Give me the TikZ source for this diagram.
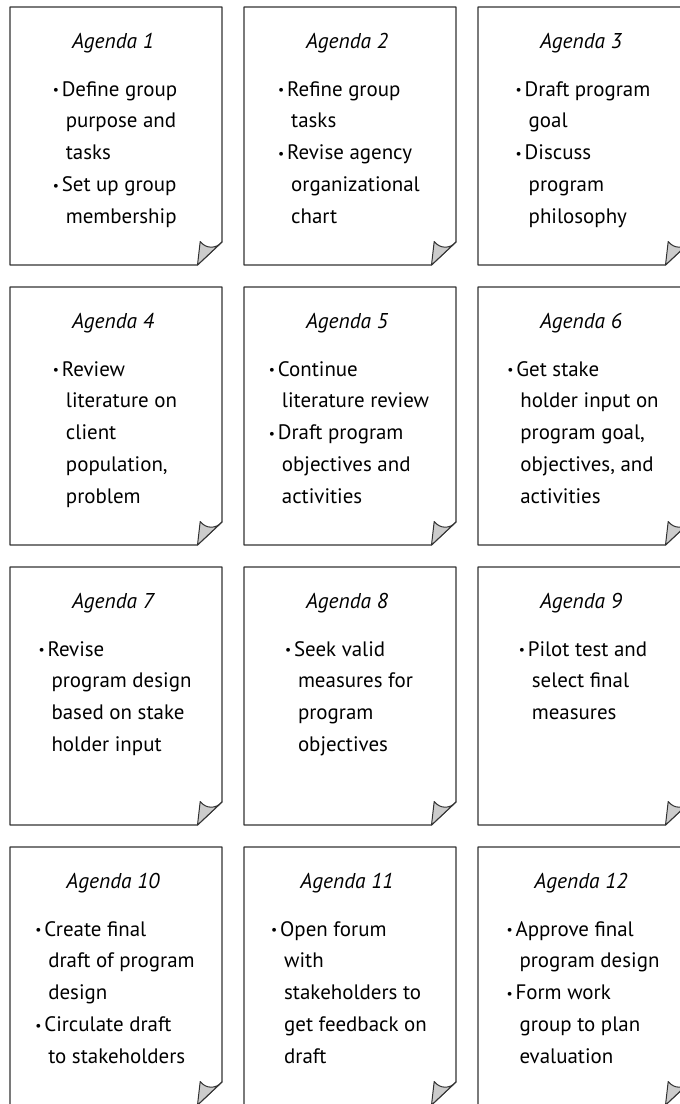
\documentclass[tikz,border=0pt]{standalone}
\usepackage{fontspec}
\setmainfont{PT Sans}
\begin{document}
\begin{tikzpicture}[x=1bp,y=-1bp,
  cardline/.style={draw=black!80, line width=1.1bp, line join=round},
  curl/.style={draw=black!80, fill=black!20, line width=1bp, line join=round},
  cardbox/.style={minimum width=212bp, minimum height=258bp, inner sep=0pt, outer sep=0pt, draw=none},
  agtitle/.style={font=\fontsize{21.5}{28}\selectfont\itshape, anchor=base, inner sep=0pt},
  agbody/.style={font=\fontsize{21}{32}\selectfont, anchor=base, inner sep=0pt}]
\useasboundingbox (0,0) rectangle (680,1104);
\clip (0,0) rectangle (680,1104);

% one agenda sheet: name, left, top, title, list rows
\newcommand\agendacard[5]{%
  \node[cardbox, anchor=north west] (#1) at (#2,#3) {};
  \draw[cardline] (#1.south west) -- (#1.north west) -- (#1.north east)
    -- ([yshift=23bp]#1.south east) -- ([xshift=-24.5bp]#1.south east) -- cycle;
  \draw[curl] ([xshift=-24.5bp]#1.south east)
    -- ([xshift=-21.8bp,yshift=23.5bp]#1.south east)
    .. controls ([xshift=-16bp,yshift=16bp]#1.south east) and ([xshift=-6bp,yshift=16bp]#1.south east)
    .. ([yshift=23bp]#1.south east) -- cycle;
  \node[agtitle] (#1-t) at ([xshift=-3bp,yshift=-41bp]#1.north) {#4};
  \node[agbody] (#1-b) at ([xshift=-1bp,yshift=-89bp]#1.north)
    {\begin{tabular}[t]{@{}l@{}}#5\end{tabular}};
}
% bulleted first line and indented follow-on line
\newcommand\bi[1]{\makebox[9bp][l]{\raisebox{0.12ex}{\scalebox{0.65}{\textbullet}}}#1}
\newcommand\ci[1]{\hspace{13bp}#1}

\agendacard{a1}{10}{7}{Agenda 1}{\bi{Define group}\\ \ci{purpose and}\\ \ci{tasks}\\ \bi{Set up group}\\ \ci{membership}}
\agendacard{a2}{244}{7}{Agenda 2}{\bi{Refine group}\\ \ci{tasks}\\ \bi{Revise agency}\\ \ci{organizational}\\ \ci{chart}}
\agendacard{a3}{478}{7}{Agenda 3}{\bi{Draft program}\\ \ci{goal}\\ \bi{Discuss}\\ \ci{program}\\ \ci{philosophy}}

\agendacard{a4}{10}{287}{Agenda 4}{\bi{Review}\\ \ci{literature on}\\ \ci{client}\\ \ci{population,}\\ \ci{problem}}
\agendacard{a5}{244}{287}{Agenda 5}{\bi{Continue}\\ \ci{literature review}\\ \bi{Draft program}\\ \ci{objectives and}\\ \ci{activities}}
\agendacard{a6}{478}{287}{Agenda 6}{\bi{Get stake}\\ \ci{holder input on}\\ \ci{program goal,}\\ \ci{objectives, and}\\ \ci{activities}}

\agendacard{a7}{10}{567}{Agenda 7}{\bi{Revise}\\ \ci{program design}\\ \ci{based on stake}\\ \ci{holder input}}
\agendacard{a8}{244}{567}{Agenda 8}{\bi{Seek valid}\\ \ci{measures for}\\ \ci{program}\\ \ci{objectives}}
\agendacard{a9}{478}{567}{Agenda 9}{\bi{Pilot test and}\\ \ci{select final}\\ \ci{measures}}

\agendacard{a10}{10}{847}{Agenda 10}{\bi{Create final}\\ \ci{draft of program}\\ \ci{design}\\ \bi{Circulate draft}\\ \ci{to stakeholders}}
\agendacard{a11}{244}{847}{Agenda 11}{\bi{Open forum}\\ \ci{with}\\ \ci{stakeholders to}\\ \ci{get feedback on}\\ \ci{draft}}
\agendacard{a12}{478}{847}{Agenda 12}{\bi{Approve final}\\ \ci{program design}\\ \bi{Form work}\\ \ci{group to plan}\\ \ci{evaluation}}
\end{tikzpicture}
\end{document}
